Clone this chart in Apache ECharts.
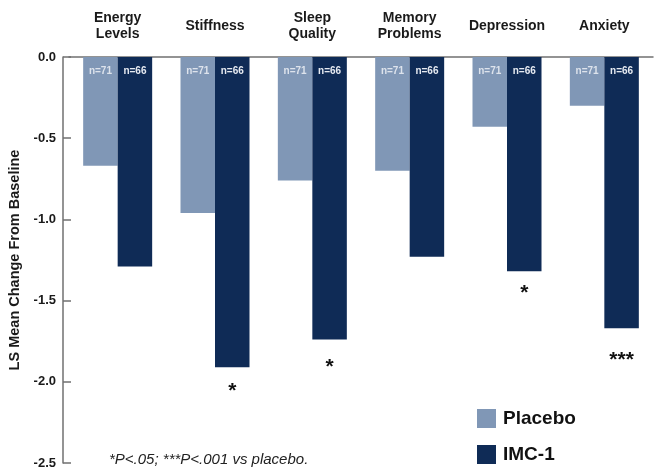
<!DOCTYPE html>
<html>
<head>
<meta charset="utf-8">
<script src="https://cdn.jsdelivr.net/npm/echarts@6/dist/echarts.min.js"></script>
<style>
  html, body { margin: 0; padding: 0; background: #ffffff; }
  #chart { width: 654px; height: 473px; }
</style>
</head>
<body>
<div id="chart"></div>
<script>
// Symptom domains shown along the top axis
const categories = ['Energy\nLevels', 'Stiffness', 'Sleep\nQuality', 'Memory\nProblems', 'Depression', 'Anxiety'];

// LS mean change from baseline per domain
const placeboValues = [-0.67, -0.96, -0.76, -0.70, -0.43, -0.30];
const imcValues = [-1.29, -1.91, -1.74, -1.23, -1.32, -1.67];

// Group sizes printed at the top of each bar
const placeboN = ['n=71', 'n=71', 'n=71', 'n=71', 'n=71', 'n=71'];
const imcN = ['n=66', 'n=66', 'n=66', 'n=66', 'n=66', 'n=66'];

// Significance markers vs placebo, one per domain
const significance = ['', '*', '*', '', '*', '***'];

// Value axis ticks
const yTicks = [0, -0.5, -1.0, -1.5, -2.0, -2.5];

const seriesNames = ['Placebo', 'IMC-1'];

const FONT = '"Liberation Sans", Arial, Helvetica, sans-serif';
const PLACEBO_COLOR = '#8097b6';
const IMC_COLOR = '#0f2b56';
const AXIS_COLOR = '#707070';

// spacing between the bar end and its significance marker
const sigDistance = [0, 14, 17, 0, 11, 21];

const chart = echarts.init(document.getElementById('chart'), null, { renderer: 'canvas' });

const sigMarks = [];
significance.forEach(function (s, i) {
  if (s) {
    sigMarks.push({
      coord: [i, imcValues[i]],
      value: s,
      label: { distance: sigDistance[i] }
    });
  }
});

chart.setOption({
  animation: false,
  backgroundColor: '#ffffff',
  textStyle: { fontFamily: FONT },
  title: {
    text: '*P<.05; ***P<.001 vs placebo.',
    left: 109,
    top: 452,
    padding: 0,
    textStyle: {
      fontFamily: FONT,
      fontSize: 15,
      fontStyle: 'italic',
      fontWeight: 'normal',
      color: '#222222'
    }
  },
  legend: {
    data: seriesNames,
    orient: 'vertical',
    left: 477,
    top: 409,
    padding: 0,
    icon: 'rect',
    itemWidth: 19,
    itemHeight: 19,
    itemGap: 17,
    textStyle: {
      fontFamily: FONT,
      fontSize: 19,
      fontWeight: 'bold',
      color: '#111111',
      padding: [0, 0, 0, 2]
    },
    selectedMode: false
  },
  grid: {
    left: 69,
    right: 1,
    top: 57,
    bottom: 10,
    containLabel: false,
    outerBoundsMode: 'none'
  },
  xAxis: {
    type: 'category',
    position: 'top',
    data: categories,
    axisLine: { show: true, onZero: false, lineStyle: { color: AXIS_COLOR, width: 1.5 } },
    axisTick: { show: false },
    splitLine: { show: false },
    axisLabel: {
      interval: 0,
      margin: 31,
      verticalAlign: 'middle',
      fontFamily: FONT,
      fontSize: 14,
      fontWeight: 'bold',
      lineHeight: 16,
      color: '#1a1a1a'
    }
  },
  yAxis: {
    type: 'value',
    min: yTicks[yTicks.length - 1],
    max: yTicks[0],
    interval: 0.5,
    offset: 6,
    name: 'LS Mean Change From Baseline',
    nameLocation: 'middle',
    nameGap: 39,
    nameTextStyle: {
      fontFamily: FONT,
      fontSize: 14.5,
      fontWeight: 'bold',
      color: '#1a1a1a'
    },
    axisLine: { show: true, onZero: false, lineStyle: { color: AXIS_COLOR, width: 1.5 } },
    axisTick: { show: true, inside: true, length: 8, lineStyle: { color: AXIS_COLOR, width: 1.5 } },
    splitLine: { show: false },
    axisLabel: {
      margin: 7,
      fontFamily: FONT,
      fontSize: 13,
      fontWeight: 'bold',
      color: '#1a1a1a',
      formatter: function (v) { return v.toFixed(1); }
    }
  },
  series: [
    {
      name: seriesNames[0],
      type: 'bar',
      data: placeboValues,
      barWidth: 34.5,
      barGap: '0%',
      itemStyle: { color: PLACEBO_COLOR },
      label: {
        show: true,
        position: 'insideTop',
        distance: 9,
        fontFamily: FONT,
        fontSize: 10,
        fontWeight: 'bold',
        color: '#dde3ec',
        formatter: function (p) { return placeboN[p.dataIndex]; }
      }
    },
    {
      name: seriesNames[1],
      type: 'bar',
      data: imcValues,
      barWidth: 34.5,
      barGap: '0%',
      itemStyle: { color: IMC_COLOR },
      label: {
        show: true,
        position: 'insideTop',
        distance: 9,
        fontFamily: FONT,
        fontSize: 10,
        fontWeight: 'bold',
        color: '#e6eaf1',
        formatter: function (p) { return imcN[p.dataIndex]; }
      },
      markPoint: {
        symbol: 'circle',
        symbolSize: 0,
        silent: true,
        itemStyle: { color: 'transparent' },
        label: {
          show: true,
          position: 'bottom',
          fontFamily: FONT,
          fontSize: 21,
          fontWeight: 'bold',
          color: '#111111',
          formatter: function (p) { return p.value; }
        },
        data: sigMarks
      }
    }
  ]
});
</script>
</body>
</html>
